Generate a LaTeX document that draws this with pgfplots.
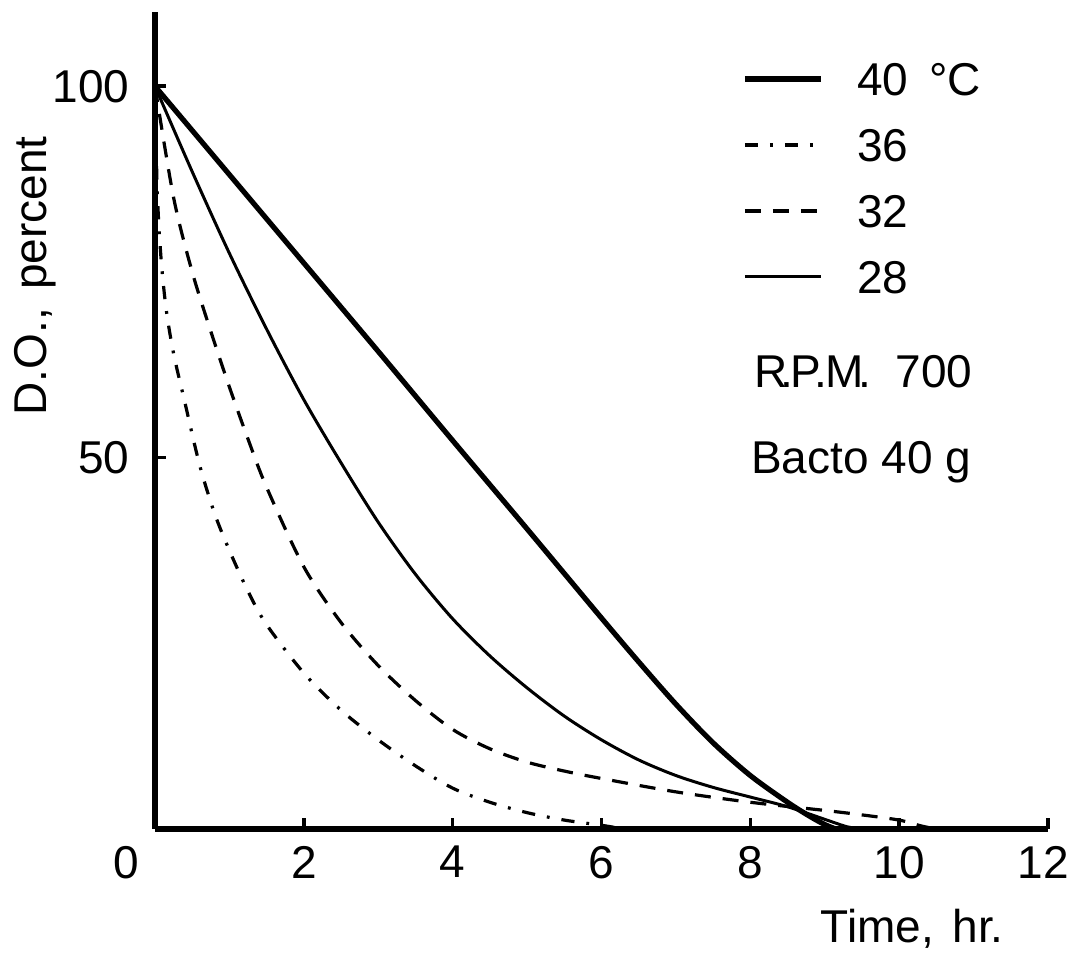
\documentclass[border=0pt]{standalone}
\usepackage{fontspec}
\setmainfont{Liberation Sans}
\usepackage{pgfplots}
\pgfplotsset{compat=1.18}
\newcommand{\lf}{\fontsize{11.5}{13}\selectfont}
\begin{document}
\begin{tikzpicture}
\path[use as bounding box] (-38.75pt,-33.5pt) rectangle (228.75pt,207.25pt);
\begin{axis}[
  at={(0,0)}, anchor=origin,
  scale only axis,
  width=223.25pt, height=204.25pt,
  xmin=0, xmax=12, ymin=0, ymax=110,
  axis x line=bottom, axis y line=left,
  axis line style={-, line width=1.4pt, black},
  tick align=inside,
  major tick length=2.75pt,
  tick style={line width=0.9pt, black},
  xtick={0,2,4,6,8,10,12},
  xticklabels={\makebox[0pt][r]{0\hspace{4pt}},2,4,6,8,10,\hspace*{-2.5pt}12},
  ytick={50,100},
  /pgf/number format/assume math mode=true,
  ticklabel style={font=\lf},
  xticklabel style={yshift=-0.7pt},
  yticklabel style={xshift=-2.9pt},
  xlabel={Time,\hspace{0.4em}hr.},
  ylabel={D.O.,\hspace{0.4em}percent},
  label style={font=\lf},
  xlabel style={at={(axis description cs:0.848,-0.1395)}, anchor=base},
  ylabel style={at={(axis description cs:-0.122,0.677)}, anchor=base},
  clip=false,
  legend style={at={(axis cs:7.89,103.2)}, anchor=north west, draw=none, fill=none,
    inner sep=0pt, outer sep=0pt, row sep=8.25pt, column sep=8.5pt, font=\lf,
    nodes={inner sep=0pt, text height=8.25pt, text depth=0pt}},
  legend cell align=left,
  legend image code/.code={\draw[#1] (0pt,0pt) -- (19pt,0pt);},
]
% 40 C
\addplot[black, line width=1.3pt, smooth, tension=0.5] coordinates {
(0,100) (1,88.1) (2,76.2) (3,64.3) (4,52.3) (5,40.4) (6,28.4) (6.5,22.5) (7,16.8)
(7.5,11.6) (8,7.2) (8.5,3.6) (8.8,1.7) (9.0,0.6) (9.15,0)};
% 36 C
\addplot[black, line width=0.8pt, smooth, tension=0.5,
  dash pattern=on 3.3pt off 3pt on 0.7pt off 3pt] coordinates {
(0,100) (0.03,86) (0.08,77) (0.15,70) (0.25,64) (0.4,57.5) (0.6,49) (0.8,42.5)
(1.0,37.5) (1.25,32) (1.5,27.5) (2,21) (2.5,16) (3,12) (3.5,8.5) (4,5.5)
(4.5,3.6) (5,2.2) (5.5,1.2) (6,0.5) (6.3,0)};
% 32 C
\addplot[black, line width=0.8pt, smooth, tension=0.5,
  dash pattern=on 4pt off 3pt] coordinates {
(0,100) (0.25,85) (0.5,75) (0.75,67) (1,59.5) (1.25,52.5) (1.5,46) (2,35.3)
(2.5,27.8) (3,22) (3.5,17.3) (4,13.4) (4.5,10.8) (5,9.0) (5.5,7.8) (6,6.8)
(7,5.0) (8,3.6) (9,2.5) (9.5,1.9) (10,1.2) (10.3,0.4) (10.5,0)};
% 28 C
\addplot[black, line width=0.75pt, smooth, tension=0.5] coordinates {
(0,100) (0.5,88.5) (1,77.5) (1.5,67.3) (2,57.8) (2.5,49.3) (3,41.3) (3.5,34.3)
(4,28.3) (4.5,23.3) (5,19.0) (5.5,15.2) (6,12.0) (6.5,9.3) (7,7.2) (7.5,5.6)
(8,4.3) (8.5,3.0) (9,1.3) (9.3,0.3) (9.5,0)};
\legend{40\hspace{0.45em}°C, 36, 32, 28}
\node[anchor=base west, inner sep=0pt, font=\lf] at (axis cs:8.04,59.5)
  {R\kern-.15em.\kern-.05em P\kern-.15em.\kern-.05em M\kern-.1em.\hspace{6pt}700};
\node[anchor=base west, inner sep=0pt, font=\lf] at (axis cs:8.0,47.9)
  {Bacto 40 g};
\end{axis}
\end{tikzpicture}
\end{document}
